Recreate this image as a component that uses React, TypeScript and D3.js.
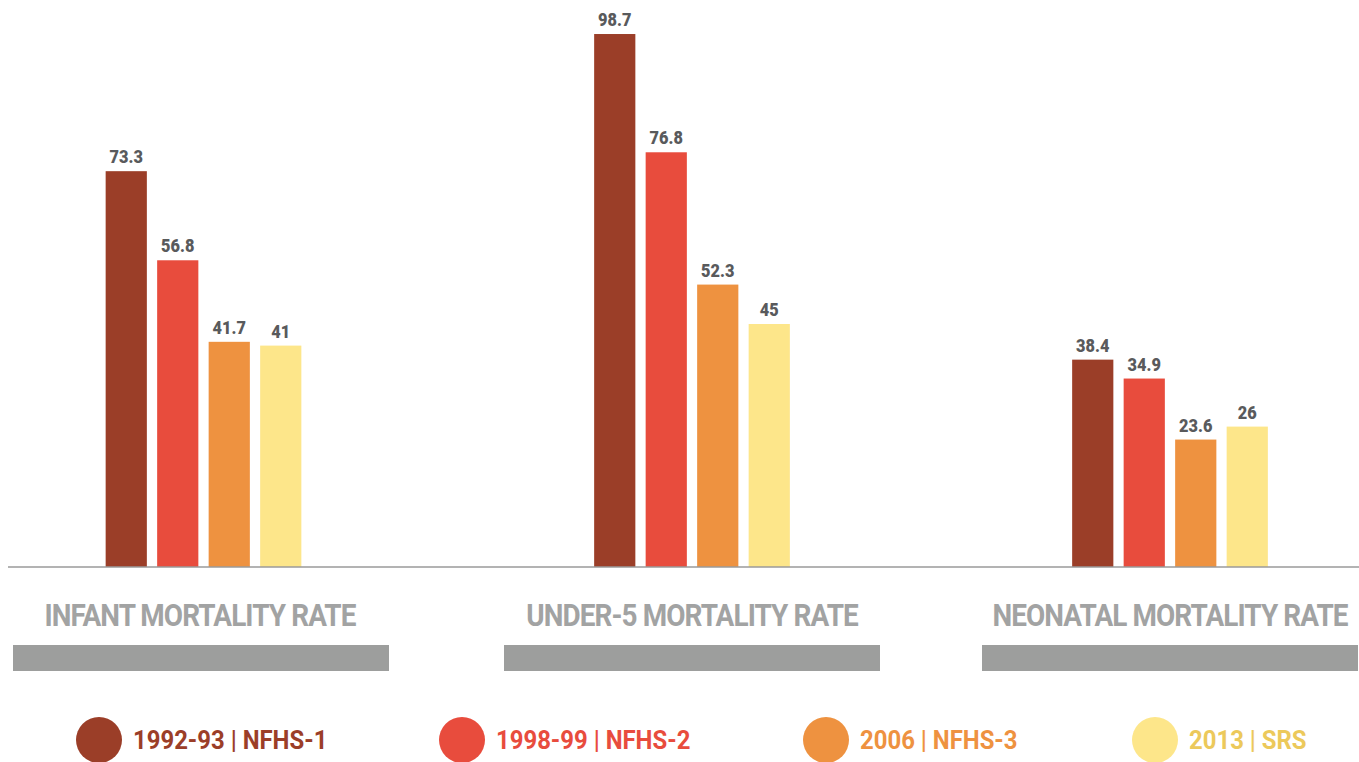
import React from "react";
import * as d3 from "d3";

const categories = ["INFANT MORTALITY RATE", "UNDER-5 MORTALITY RATE", "NEONATAL MORTALITY RATE"];
const seriesNames = ["1992-93 | NFHS-1", "1998-99 | NFHS-2", "2006 | NFHS-3", "2013 | SRS"];
const nfhs1 = [73.3, 98.7, 38.4];
const nfhs2 = [56.8, 76.8, 34.9];
const nfhs3 = [41.7, 52.3, 23.6];
const srs = [41, 45, 26];
const seriesValues = [nfhs1, nfhs2, nfhs3, srs];

const barColors = ["#9b3e28", "#e84c3d", "#ee9240", "#fde68a"];
const legendTextColors = ["#9b3e28", "#e84c3d", "#ee9240", "#ecc95b"];
const legendX = [99, 462, 826, 1155];

const W = 1359;
const H = 762;
const BASE = 567;

export default function App() {
  const y = d3.scaleLinear().domain([0, 100]).range([BASE, 27]);
  const groupCenters = [203.5, 692, 1170];
  const x1 = d3.scaleBand<number>().domain([0, 1, 2, 3]).range([-103, 103]).paddingInner(0.2).paddingOuter(0.1);
  const labelFont = "Roboto, 'Liberation Sans', sans-serif";

  return (
    <svg width={W} height={H} style={{ position: "absolute", left: 0, top: 0, display: "block", background: "#fff" }}>
      <rect x={0} y={0} width={W} height={H} fill="#fff" />
      {categories.map((cat, ci) => {
        const c = groupCenters[ci];
        return (
          <g key={cat}>
            {seriesValues.map((vals, si) => {
              const v = vals[ci];
              const bx = c + (x1(si) as number);
              const bw = x1.bandwidth();
              return (
                <g key={si}>
                  <rect x={bx} y={y(v)} width={bw} height={BASE - y(v)} fill={barColors[si]} />
                  <text
                    transform={`translate(${bx + bw / 2},${y(v) - 8}) scale(0.86,1)`}
                    textAnchor="middle"
                    fontFamily={labelFont}
                    fontWeight={900}
                    fontSize={19}
                    fill="#595a5c"
                  >
                    {String(v)}
                  </text>
                </g>
              );
            })}
            <text
              transform={`translate(${ci === 0 ? c - 3.5 : c},${626}) scale(0.9,1)`}
              textAnchor="middle"
              fontFamily={labelFont}
              fontWeight={700}
              fontSize={31}
              letterSpacing={-1}
              fill="#a2a3a3"
            >
              {cat}
            </text>
            <rect x={ci === 0 ? c - 190.5 : c - 188} y={645} width={376} height={26} fill="#9d9e9d" />
          </g>
        );
      })}
      <line x1={8} x2={W} y1={BASE} y2={BASE} stroke="#9a9a9a" strokeWidth={1.5} />
      {seriesNames.map((name, si) => (
        <g key={name}>
          <circle cx={legendX[si]} cy={740} r={23} fill={barColors[si]} />
          <text
            transform={`translate(${legendX[si] + 34},${749}) scale(0.92,1)`}
            fontFamily={labelFont}
            fontWeight={700}
            fontSize={26}
            fill={legendTextColors[si]}
          >
            {name}
          </text>
        </g>
      ))}
    </svg>
  );
}
